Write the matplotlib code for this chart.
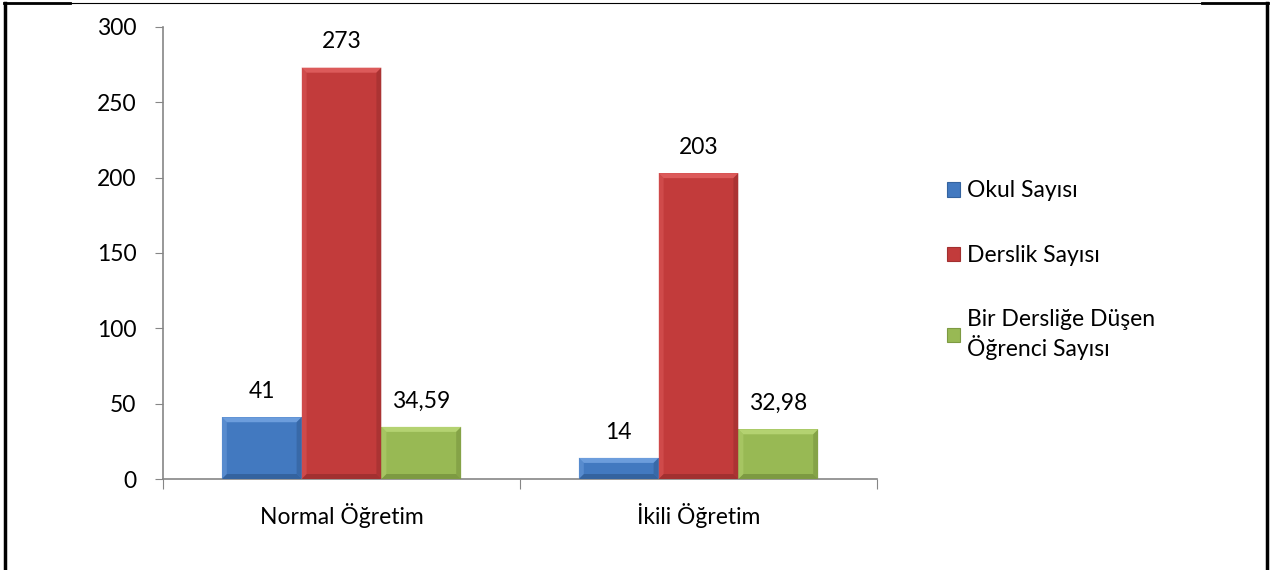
import matplotlib.pyplot as plt
from matplotlib.patches import Polygon, Patch
from matplotlib.lines import Line2D
import numpy as np

plt.rcParams['font.family'] = ['Lato', 'DejaVu Sans']

categories = ['Normal Öğretim', 'İkili Öğretim']
series_names = ['Okul Sayısı', 'Derslik Sayısı', 'Bir Dersliğe Düşen\nÖğrenci Sayısı']
okul = [41, 14]
derslik = [273, 203]
ogrenci = [34.59, 32.98]
value_labels = [['41', '14'], ['273', '203'], ['34,59', '32,98']]
yticks = [0, 50, 100, 150, 200, 250, 300]

FS = 16.5

# face, light bevel, dark bevel
colors = [('#4279c0', '#6c9ddc', '#34639f'),
          ('#c23b3b', '#dc5a5a', '#a23030'),
          ('#98b954', '#b4d271', '#7d9a42')]

fig = plt.figure(figsize=(12.71, 5.70), dpi=100)
ax = fig.add_axes([163/1271, 1-479/570, (877-163)/1271, (479-27)/570])

x = np.arange(len(categories))
width = 0.2235
data = [okul, derslik, ogrenci]

# bevel size in data units (~5 px)
dx = 5/357
dy = 5*300/452

for i, vals in enumerate(data):
    face, light, dark = colors[i]
    pos = x + (i-1)*width
    bars = ax.bar(pos, vals, width, color=face, edgecolor='none', zorder=2)
    for b, lab in zip(bars, value_labels[i]):
        x0 = b.get_x(); x1 = x0 + b.get_width(); h = b.get_height()
        d = min(dy, h/2)
        ax.add_patch(Polygon([(x0, h), (x1, h), (x1-dx, h-d), (x0+dx, h-d)], color=light, zorder=3, lw=0))
        ax.add_patch(Polygon([(x0, 0), (x1, 0), (x1-dx, d), (x0+dx, d)], color=dark, zorder=3, lw=0))
        ax.add_patch(Polygon([(x0, 0), (x0, h), (x0+dx, h-d), (x0+dx, d)], color=light, alpha=0.5, zorder=3, lw=0))
        ax.add_patch(Polygon([(x1, 0), (x1, h), (x1-dx, h-d), (x1-dx, d)], color=dark, alpha=0.7, zorder=3, lw=0))
        ax.annotate(lab, (b.get_x()+b.get_width()/2, h), xytext=(0, 11), textcoords='offset points',
                    ha='center', va='bottom', fontsize=FS)

ax.set_xlim(-0.5, 1.5)
ax.set_ylim(0, 300)
ax.set_yticks(yticks)
ax.set_xticks([-0.5, 0.5, 1.5])
ax.set_xticklabels([])
ax.set_xticks(x, minor=True)
ax.set_xticklabels(categories, minor=True)
ax.tick_params(axis='x', which='minor', length=0, pad=17, labelsize=FS)
ax.tick_params(axis='x', which='major', length=7, color='#868686', direction='out')
ax.tick_params(axis='y', length=6, color='#868686', pad=13, labelsize=FS)
for s in ['top', 'right']:
    ax.spines[s].set_visible(False)
for s in ['left', 'bottom']:
    ax.spines[s].set_color('#868686')
    ax.spines[s].set_linewidth(1.2)

handles = [Patch(facecolor=c[0], edgecolor=c[2], lw=0.8) for c in colors]
fig.legend(handles, series_names, loc='center left', bbox_to_anchor=(926/1271, 1-270/570),
           frameon=False, fontsize=FS, handlelength=0.6, handleheight=0.6,
           handletextpad=0.3, labelspacing=1.9)

# outer frame
fig.add_artist(Line2D([5/1271, 5/1271], [0, 1-3/570], transform=fig.transFigure, color='black', lw=2.5))
fig.add_artist(Line2D([1267/1271, 1267/1271], [0, 1-3/570], transform=fig.transFigure, color='black', lw=2.5))
fig.add_artist(Line2D([4/1271, 1268/1271], [1-3/570, 1-3/570], transform=fig.transFigure, color='black', lw=0.8))
fig.add_artist(Line2D([4/1271, 70/1271], [1-3/570, 1-3/570], transform=fig.transFigure, color='black', lw=2))
fig.add_artist(Line2D([1202/1271, 1268/1271], [1-3/570, 1-3/570], transform=fig.transFigure, color='black', lw=2))

fig.savefig('out.png', dpi=100)
